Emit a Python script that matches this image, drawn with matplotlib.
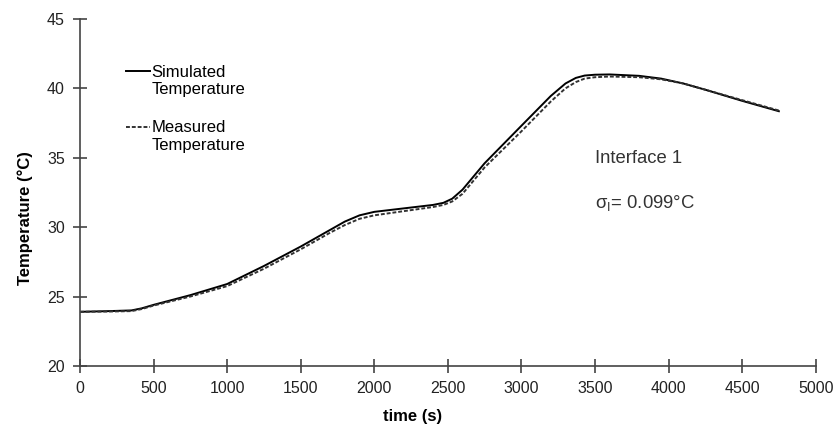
import matplotlib
matplotlib.use("Agg")
import matplotlib.pyplot as plt

time_s = [0, 200, 350, 420, 500, 750, 1000, 1250, 1500, 1700, 1800, 1900, 2000, 2200, 2400,
          2470, 2530, 2600, 2750, 3000, 3200, 3300, 3370, 3430, 3500, 3600, 3800, 3950,
          4100, 4250, 4500, 4750]
simulated = [23.9, 23.95, 24.0, 24.15, 24.4, 25.1, 25.9, 27.2, 28.6, 29.8, 30.4, 30.85, 31.1, 31.35, 31.6,
             31.75, 32.05, 32.7, 34.6, 37.3, 39.45, 40.35, 40.75, 40.92, 40.98, 41.0, 40.9, 40.7,
             40.35, 39.9, 39.1, 38.35]
measured = [23.9, 23.92, 23.95, 24.1, 24.35, 25.0, 25.75, 27.0, 28.4, 29.6, 30.15, 30.6, 30.85, 31.15, 31.45,
            31.6, 31.85, 32.4, 34.3, 36.9, 39.05, 40.0, 40.45, 40.7, 40.8, 40.85, 40.8, 40.65,
            40.35, 39.9, 39.15, 38.4]

xticks = [0, 500, 1000, 1500, 2000, 2500, 3000, 3500, 4000, 4500, 5000]
yticks = [20, 25, 30, 35, 40, 45]

plt.rcParams['font.family'] = ['Liberation Sans', 'DejaVu Sans']
plt.rcParams['mathtext.fontset'] = 'custom'
plt.rcParams['mathtext.rm'] = 'Liberation Sans'

fig = plt.figure(figsize=(8.35, 4.3), dpi=100)
ax = fig.add_axes([0.0958, 0.149, 0.881, 0.807])

ax.plot(time_s, simulated, color='black', lw=1.4, label='Simulated\nTemperature')
ax.plot(time_s, measured, color='#333333', lw=1.4, linestyle=(0, (2, 1)),
        label='Measured\nTemperature')

ax.set_xlim(0, 5000)
ax.set_ylim(20, 45)
ax.set_xticks(xticks)
ax.set_yticks(yticks)
ax.tick_params(direction='inout', length=10, width=1.2, color='#444444',
               labelsize=11.5, labelcolor='#222222', pad=6)
for s in ['top', 'right']:
    ax.spines[s].set_visible(False)
for s in ['left', 'bottom']:
    ax.spines[s].set_color('#444444')
    ax.spines[s].set_linewidth(1.2)

ax.set_xlabel('time (s)', fontsize=12, fontweight='bold')
ax.xaxis.set_label_coords(0.452, -0.125)
ax.set_ylabel('Temperature (°C)', fontsize=12, fontweight='bold')
ax.yaxis.set_label_coords(-0.064, 0.427)

leg = ax.legend(loc='upper left', bbox_to_anchor=(0.062, 0.868), frameon=False,
                fontsize=12, handlelength=1.45, handletextpad=0.1, labelspacing=1.4,
                borderpad=0, borderaxespad=0)
for line in leg.get_lines():
    line.set_ydata([y + 7 for y in line.get_ydata()])

ax.text(3500, 34.6, 'Interface 1', fontsize=13.3, color='#333333')
ax.text(3500, 31.4, r'σ$_{\mathrm{I}}$= 0.099°C', fontsize=13.3, color='#333333')

fig.savefig('out.png', dpi=100)
